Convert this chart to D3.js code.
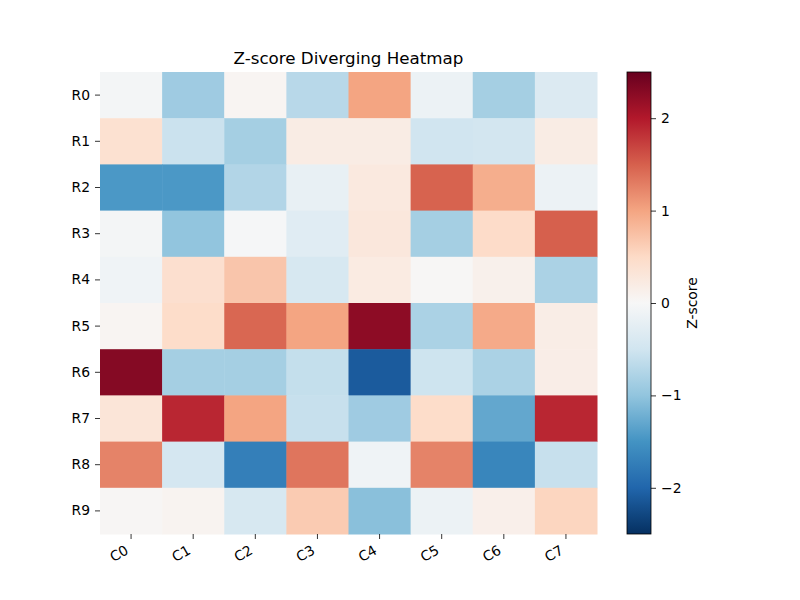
<!DOCTYPE html>
<html>
<head>
<meta charset="utf-8">
<script src="https://cdn.jsdelivr.net/npm/d3@7"></script>
<style>
  body { margin: 0; background: #fff; }
  text { font-family: "DejaVu Sans", sans-serif; fill: #000; }
</style>
</head>
<body>
<div id="chart-area"></div>
<script>
// heatmap data
var rows = ["R0", "R1", "R2", "R3", "R4", "R5", "R6", "R7", "R8", "R9"];
var cols = ["C0", "C1", "C2", "C3", "C4", "C5", "C6", "C7"];
var values = [
    [-0.05, -0.90,  0.05, -0.70,  1.00, -0.15, -0.85, -0.35],
    [ 0.40, -0.55, -0.85,  0.20,  0.20, -0.50, -0.48,  0.20],
    [-1.45, -1.45, -0.75, -0.20,  0.25,  1.48,  0.92, -0.15],
    [-0.05, -1.00, -0.03, -0.30,  0.28, -0.85,  0.48,  1.50],
    [-0.10,  0.42,  0.70, -0.42,  0.22,  0.02,  0.12, -0.80],
    [ 0.05,  0.47,  1.45,  1.00,  2.25, -0.80,  0.95,  0.18],
    [ 2.30, -0.85, -0.85, -0.60, -2.10, -0.52, -0.80,  0.17],
    [ 0.32,  1.90,  1.00, -0.58, -0.90,  0.47, -1.30,  1.90],
    [ 1.25, -0.45, -1.72,  1.35, -0.10,  1.25, -1.65, -0.58],
    [ 0.03,  0.07, -0.42,  0.65, -1.05, -0.15,  0.14,  0.55]
];
var cbarTicks = [-2, -1, 0, 1, 2];

var width = 800;
var height = 600;
var margin = {top: 72, left: 100};
var plotW = 497, plotH = 462;

var svg = d3.select("#chart-area")
    .append("svg")
    .attr("width", width)
    .attr("height", height);

// RdBu_r like matplotlib
var rdbu = ["#053061", "#2166ac", "#4393c3", "#92c5de", "#d1e5f0", "#f7f7f7",
            "#fddbc7", "#f4a582", "#d6604d", "#b2182b", "#67001f"];
var color = d3.scaleLinear()
    .domain(d3.range(11).map((i) => -2.5 + i * 0.5))
    .range(rdbu)
    .interpolate(d3.interpolateRgb)
    .clamp(true);

var x = d3.scaleBand().domain(cols).range([0, plotW]);
var y = d3.scaleBand().domain(rows).range([0, plotH]);

var g = svg.append("g")
    .attr("transform", "translate(" + margin.left + ", " + margin.top + ")");

var cells = [];
values.forEach((row, i) => {
    row.forEach((v, j) => {
        cells.push({r: rows[i], c: cols[j], v: v});
    });
});

g.selectAll("rect.cell").data(cells)
    .enter()
    .append("rect")
        .attr("class", "cell")
        .attr("x", (d) => x(d.c))
        .attr("y", (d) => y(d.r))
        .attr("width", x.bandwidth() + 0.5)
        .attr("height", y.bandwidth() + 0.5)
        .attr("fill", (d) => color(d.v));

// bottom axis
var xAxis = g.append("g")
    .attr("transform", "translate(0, " + plotH + ")")
    .call(d3.axisBottom(x).tickSize(5).tickPadding(5));
xAxis.select(".domain").remove();
xAxis.selectAll("line").attr("stroke", "#000").attr("stroke-width", 0.8);
// rotated labels, right/top of box at the tick like ha="right"
xAxis.selectAll("text")
    .attr("font-size", "13.9px")
    .attr("font-family", "DejaVu Sans")
    .attr("text-anchor", "end")
    .attr("dy", "0")
    .attr("y", 0)
    .attr("x", 0)
    .attr("transform", "translate(-1.6, 19) rotate(-30)");

// left axis
var yAxis = g.append("g")
    .call(d3.axisLeft(y).tickSize(5).tickPadding(5));
yAxis.select(".domain").remove();
yAxis.selectAll("line").attr("stroke", "#000").attr("stroke-width", 0.8);
yAxis.selectAll("text")
    .attr("font-size", "13.9px")
    .attr("font-family", "DejaVu Sans");

// title
svg.append("text")
    .attr("x", margin.left + plotW / 2)
    .attr("y", margin.top - 8)
    .attr("text-anchor", "middle")
    .attr("font-size", "16.7px")
    .text("Z-score Diverging Heatmap");

// colorbar
var cbX = 627, cbW = 24;
var cbY = d3.scaleLinear().domain([-2.5, 2.5]).range([margin.top + plotH, margin.top]);

var defs = svg.append("defs");
var grad = defs.append("linearGradient")
    .attr("id", "cbgrad")
    .attr("x1", "0").attr("y1", "1").attr("x2", "0").attr("y2", "0");
rdbu.forEach((c, i) => {
    grad.append("stop")
        .attr("offset", (i / 10 * 100) + "%")
        .attr("stop-color", c);
});

svg.append("rect")
    .attr("x", cbX)
    .attr("y", cbY(2.5))
    .attr("width", cbW)
    .attr("height", cbY(-2.5) - cbY(2.5))
    .attr("fill", "url(#cbgrad)")
    .attr("stroke", "#000")
    .attr("stroke-width", 0.8);

var cbAxis = svg.append("g")
    .attr("transform", "translate(" + (cbX + cbW) + ", 0)")
    .call(d3.axisRight(cbY).tickValues(cbarTicks).tickSize(5).tickPadding(5)
        .tickFormat((d) => d < 0 ? "\u2212" + Math.abs(d) : d));
cbAxis.select(".domain").remove();
cbAxis.selectAll("line").attr("stroke", "#000").attr("stroke-width", 0.8);
cbAxis.selectAll("text")
    .attr("font-size", "13.9px")
    .attr("font-family", "DejaVu Sans");

svg.append("text")
    .attr("transform", "translate(697, " + (margin.top + plotH / 2) + ") rotate(-90)")
    .attr("text-anchor", "middle")
    .attr("font-size", "13.9px")
    .text("Z-score");
</script>
</body>
</html>
